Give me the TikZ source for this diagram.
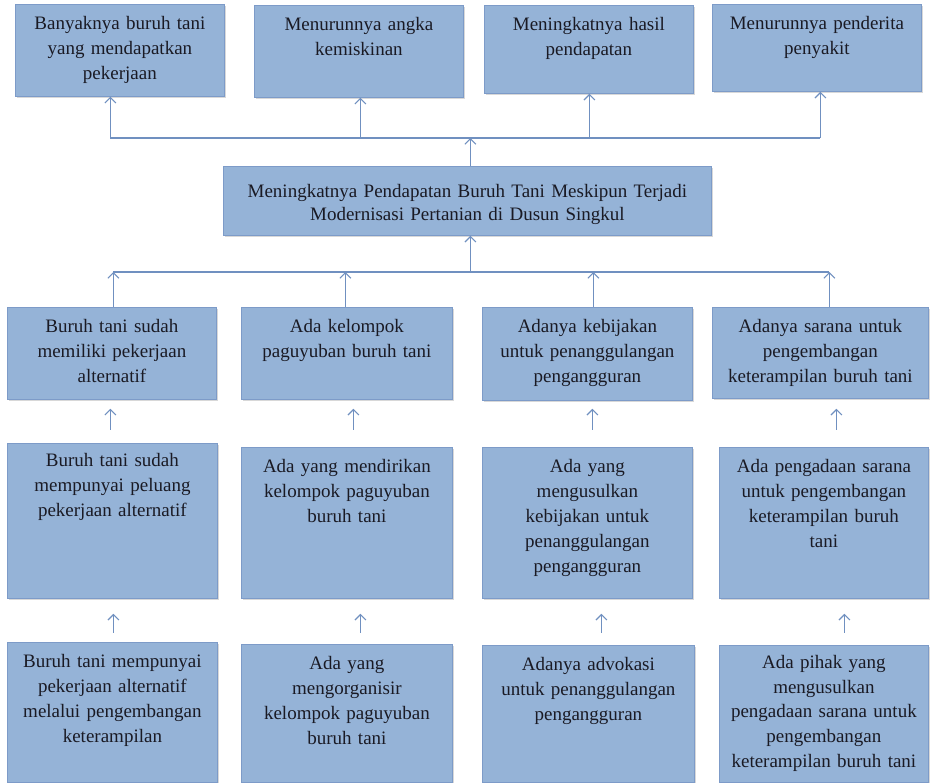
\documentclass[tikz,border=0pt]{standalone}
\usepackage{fontspec}
\setmainfont{Liberation Serif}
\usetikzlibrary{arrows.meta,shadows}
\definecolor{boxfill}{HTML}{95B3D7}
\definecolor{boxline}{HTML}{7D9BC8}
\definecolor{arrcol}{HTML}{7090C0}
\definecolor{txtcol}{HTML}{1A1A24}
\begin{document}
\begin{tikzpicture}[x=1pt,y=1pt,
  bx/.style={draw=boxline, fill=boxfill, line width=0.8pt, inner xsep=1pt, inner ysep=0pt,
    align=center, anchor=north west, text=txtcol,
    font=\fontsize{19}{25}\selectfont, text height=25pt,
    drop shadow={shadow xshift=1.2pt, shadow yshift=-1.5pt, opacity=0.3}},
  arr/.style={draw=arrcol, line width=1.1pt, -{Straight Barb[length=5.5pt,width=11pt]}},
  ln/.style={draw=arrcol, line width=1.1pt}]
\clip (0,0) rectangle (934,783);
\fill[white] (0,0) rectangle (934,783);
% top row
\node[bx, text width=207pt, text depth=67pt] (t1) at (15,779) {Banyaknya buruh tani\\yang mendapatkan\\pekerjaan};
\node[bx, text width=207pt, text depth=67pt] (t2) at (254,778) {Menurunnya angka\\kemiskinan};
\node[bx, text width=207pt, text depth=63pt] (t3) at (484,778) {Meningkatnya hasil\\pendapatan};
\node[bx, text width=207pt, text depth=62pt] (t4) at (712,779) {Menurunnya penderita\\penyakit};
% middle
\node[bx, text width=486pt, text height=31pt, text depth=38pt, font=\fontsize{19}{23}\selectfont] (m) at (223,617) {Meningkatnya Pendapatan Buruh Tani Meskipun Terjadi\\Modernisasi Pertanian di Dusun Singkul};
% row 2
\node[bx, text width=207pt, text depth=67pt] (a2) at (7,476) {Buruh tani sudah\\memiliki pekerjaan\\alternatif};
\node[bx, text width=209pt, text depth=67pt] (b2) at (241,476) {Ada kelompok\\paguyuban buruh tani};
\node[bx, text width=208pt, text depth=68pt] (c2) at (482,476) {Adanya kebijakan\\untuk penanggulangan\\pengangguran};
\node[bx, text width=214pt, text depth=66pt] (d2) at (712,476) {Adanya sarana untuk\\pengembangan\\keterampilan buruh tani};
% row 3
\node[bx, text width=208pt, text height=23pt, text depth=132pt] (a3) at (7,340) {Buruh tani sudah\\mempunyai peluang\\pekerjaan alternatif};
\node[bx, text width=209pt, text depth=126pt] (b3) at (241,336) {Ada yang mendirikan\\kelompok paguyuban\\buruh tani};
\node[bx, text width=208pt, text depth=126pt] (c3) at (482,336) {Ada yang\\mengusulkan\\kebijakan untuk\\penanggulangan\\pengangguran};
\node[bx, text width=207pt, text depth=126pt] (d3) at (719,336) {Ada pengadaan sarana\\untuk pengembangan\\keterampilan buruh\\tani};
% row 4
\node[bx, text width=208pt, text depth=115pt] (a4) at (7,141) {Buruh tani mempunyai\\pekerjaan alternatif\\melalui pengembangan\\keterampilan};
\node[bx, text width=209pt, text depth=113pt] (b4) at (241,139) {Ada yang\\mengorganisir\\kelompok paguyuban\\buruh tani};
\node[bx, text width=210pt, text depth=112pt] (c4) at (482,138) {Adanya advokasi\\untuk penanggulangan\\pengangguran};
\node[bx, text width=207pt, text height=23pt, text depth=114pt, font=\fontsize{19}{24.7}\selectfont] (d4) at (719,138) {Ada pihak yang\\mengusulkan\\pengadaan sarana untuk\\pengembangan\\keterampilan buruh tani};
% upper bus
\coordinate (busT) at (0,645);
\coordinate (ft1) at ([xshift=-9.5pt]t1.south);
\coordinate (ft2) at ([xshift=1.5pt]t2.south);
\coordinate (ft3) at ([xshift=0.5pt]t3.south);
\coordinate (ft4) at ([xshift=3.5pt]t4.south);
\coordinate (mt) at ([xshift=3pt]m.north);
\draw[ln] (ft1 |- busT) -- (ft4 |- busT);
\draw[arr] (mt) -- (mt |- busT);
\draw[arr] (ft1 |- busT) -- (ft1);
\draw[arr] (ft2 |- busT) -- (ft2);
\draw[arr] (ft3 |- busT) -- (ft3);
\draw[arr] (ft4 |- busT) -- (ft4);
% lower bus
\coordinate (busB) at (0,511);
\coordinate (ha2) at ([xshift=1.5pt]a2.north);
\coordinate (hb2) at ([xshift=-1.5pt]b2.north);
\coordinate (hc2) at ([xshift=6pt]c2.north);
\coordinate (hd2) at ([xshift=9pt]d2.north);
\coordinate (mb) at ([xshift=3pt]m.south);
\draw[ln] (ha2 |- busB) -- (hd2 |- busB);
\draw[arr] (mb |- busB) -- (mb);
\draw[arr] (ha2) -- (ha2 |- busB);
\draw[arr] (hb2) -- (hb2 |- busB);
\draw[arr] (hc2) -- (hc2 |- busB);
\draw[arr] (hd2) -- (hd2 |- busB);
% row 3 -> row 2
\coordinate (sa3) at ([xshift=-2pt]a3.north);
\coordinate (sb3) at ([xshift=6.5pt]b3.north);
\coordinate (sc3) at ([xshift=5pt]c3.north);
\coordinate (sd3) at ([xshift=12.5pt]d3.north);
\draw[arr, shorten <=13pt, shorten >=9pt] (sa3) -- (sa3 |- a2.south);
\draw[arr, shorten <=17pt, shorten >=9pt] (sb3) -- (sb3 |- b2.south);
\draw[arr, shorten <=17pt, shorten >=8pt] (sc3) -- (sc3 |- c2.south);
\draw[arr, shorten <=17pt, shorten >=10pt] (sd3) -- (sd3 |- d2.south);
% row 4 -> row 3
\coordinate (sa4) at ([xshift=1pt]a4.north);
\coordinate (sb4) at ([xshift=13.5pt]b4.north);
\coordinate (sc4) at ([xshift=13pt]c4.north);
\coordinate (sd4) at ([xshift=20.5pt]d4.north);
\draw[arr, shorten <=9pt, shorten >=15pt] (sa4) -- (sa4 |- a3.south);
\draw[arr, shorten <=11pt, shorten >=15pt] (sb4) -- (sb4 |- b3.south);
\draw[arr, shorten <=12pt, shorten >=15pt] (sc4) -- (sc4 |- c3.south);
\draw[arr, shorten <=12pt, shorten >=15pt] (sd4) -- (sd4 |- d3.south);
\end{tikzpicture}
\end{document}
